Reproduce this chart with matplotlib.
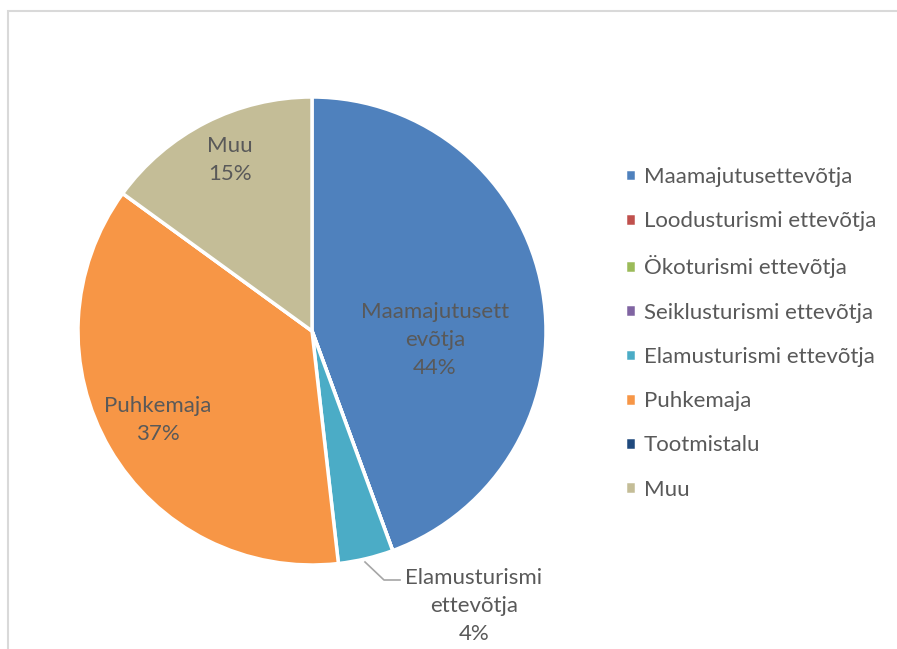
import matplotlib
matplotlib.use("Agg")
import matplotlib.pyplot as plt
from matplotlib.patches import Rectangle

# andmed (osakaalud %)
categories = ["Maamajutusettevõtja", "Loodusturismi ettevõtja", "Ökoturismi ettevõtja",
              "Seiklusturismi ettevõtja", "Elamusturismi ettevõtja", "Puhkemaja",
              "Tootmistalu", "Muu"]
shares = [44.4, 0, 0, 0, 3.8, 36.8, 0, 15.0]
labels_pct = ["44%", "", "", "", "4%", "37%", "", "15%"]
colors = ["#4F81BD", "#C0504D", "#9BBB59", "#8064A2", "#4BACC6", "#F79646",
          "#1F497D", "#C4BD97"]

plt.rcParams['font.family'] = ['Lato', 'DejaVu Sans']
txt_color = "#595959"

W, H = 897, 649
fig = plt.figure(figsize=(W / 100, H / 100), dpi=100)

# hall raam
fig.patches.append(Rectangle((8 / W, -0.1), 2, 1.1 - 11 / H, transform=fig.transFigure,
                             fill=False, edgecolor="#d9d9d9", linewidth=1.5))

# pirukas: keskpunkt (312, 331) px, raadius 234 px
cx, cy, R = 312, 331, 234
half = 240
ax = fig.add_axes([(cx - half) / W, (H - cy - half) / H, 2 * half / W, 2 * half / H])
wedges, _ = ax.pie(shares, colors=colors, startangle=90, counterclock=False,
                   wedgeprops=dict(edgecolor="white", linewidth=2.5))
lim = half / R
ax.set_xlim(-lim, lim)
ax.set_ylim(-lim, lim)
ax.set_aspect("equal")
ax.axis("off")


def px(x, y):
    return (x - cx) / R, (cy - y) / R


fs = 16
ls = 1.5
ax.text(*px(435, 340), "Maamajutusett\nevõtja\n" + labels_pct[0], ha="center", va="center",
        fontsize=fs, color=txt_color, linespacing=ls)
ax.text(*px(158, 420), "Puhkemaja\n" + labels_pct[5], ha="center", va="center",
        fontsize=fs, color=txt_color, linespacing=ls)
ax.text(*px(230, 160), "Muu\n" + labels_pct[7], ha="center", va="center",
        fontsize=fs, color=txt_color, linespacing=ls)
ax.text(*px(474, 606), "Elamusturismi\nettevõtja\n" + labels_pct[4], ha="center", va="center",
        fontsize=fs, color=txt_color, linespacing=ls, clip_on=False)
lx, ly = zip(px(365, 562), px(384, 580), px(400, 580))
ax.plot(lx, ly, color="#a6a6a6", linewidth=1.2, clip_on=False)

leg = fig.legend(wedges, categories, loc="upper left",
                 bbox_to_anchor=(605 / W, 1 - 147 / H), frameon=False,
                 fontsize=fs, handlelength=0.5, handleheight=0.5, handletextpad=0.35,
                 labelspacing=1.09, labelcolor=txt_color)

fig.savefig("out.png", dpi=100)
